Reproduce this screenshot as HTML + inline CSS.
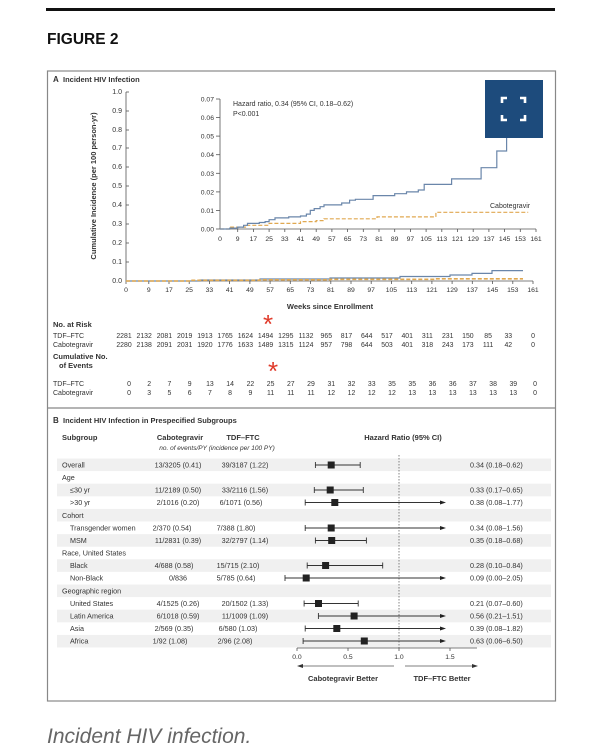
<!DOCTYPE html>
<html><head><meta charset="utf-8"><style>
html,body{margin:0;padding:0;background:#fff;}
svg{display:block;}
text{font-family:"Liberation Sans",sans-serif;fill:#333;}
</style></head><body>
<svg width="601" height="750" viewBox="0 0 601 750" xmlns="http://www.w3.org/2000/svg">
<rect x="46" y="8" width="509" height="3" fill="#111"/>
<text x="47" y="44" font-size="15.5" font-weight="bold" fill="#111" style="fill:#111">FIGURE 2</text>
<rect x="47.5" y="71" width="508" height="630" fill="none" stroke="#888" stroke-width="1.2"/>
<line x1="47.5" y1="408" x2="555.5" y2="408" stroke="#888" stroke-width="1.2"/>

<!-- Panel A -->
<text x="53" y="82" font-size="8" font-weight="bold">A</text>
<text x="63" y="82" font-size="7.5" font-weight="bold">Incident HIV Infection</text>
<g font-size="7" text-anchor="end">
<text x="122" y="94">1.0</text><text x="122" y="113">0.9</text><text x="122" y="132">0.8</text><text x="122" y="150">0.7</text><text x="122" y="169">0.6</text><text x="122" y="188">0.5</text><text x="122" y="207">0.4</text><text x="122" y="226">0.3</text><text x="122" y="245">0.2</text><text x="122" y="264">0.1</text><text x="122" y="283">0.0</text>
</g>
<g stroke="#555" stroke-width="0.8">
<line x1="126" y1="92" x2="126" y2="281"/>
<line x1="126" y1="92" x2="129" y2="92"/><line x1="126" y1="111" x2="129" y2="111"/><line x1="126" y1="130" x2="129" y2="130"/><line x1="126" y1="148" x2="129" y2="148"/><line x1="126" y1="167" x2="129" y2="167"/><line x1="126" y1="186" x2="129" y2="186"/><line x1="126" y1="205" x2="129" y2="205"/><line x1="126" y1="224" x2="129" y2="224"/><line x1="126" y1="243" x2="129" y2="243"/><line x1="126" y1="262" x2="129" y2="262"/>
<line x1="126" y1="281" x2="533" y2="281"/>
</g>
<text transform="translate(96,186) rotate(-90)" font-size="7.5" font-weight="bold" text-anchor="middle">Cumulative Incidence (per 100 person-yr)</text>
<g id="mt" font-size="6.8" text-anchor="middle">
<text x="126" y="292">0</text><text x="148.8" y="292">9</text><text x="169" y="292">17</text><text x="189.2" y="292">25</text><text x="209.4" y="292">33</text><text x="229.6" y="292">41</text><text x="249.9" y="292">49</text><text x="270.1" y="292">57</text><text x="290.3" y="292">65</text><text x="310.5" y="292">73</text><text x="330.8" y="292">81</text><text x="351" y="292">89</text><text x="371.2" y="292">97</text><text x="391.4" y="292">105</text><text x="411.7" y="292">113</text><text x="431.9" y="292">121</text><text x="452.1" y="292">129</text><text x="472.3" y="292">137</text><text x="492.6" y="292">145</text><text x="512.8" y="292">153</text><text x="533" y="292">161</text>
</g>
<g stroke="#555" stroke-width="0.8">
<line x1="126" y1="281" x2="126" y2="284"/><line x1="148.8" y1="281" x2="148.8" y2="284"/><line x1="169" y1="281" x2="169" y2="284"/><line x1="189.2" y1="281" x2="189.2" y2="284"/><line x1="209.4" y1="281" x2="209.4" y2="284"/><line x1="229.6" y1="281" x2="229.6" y2="284"/><line x1="249.9" y1="281" x2="249.9" y2="284"/><line x1="270.1" y1="281" x2="270.1" y2="284"/><line x1="290.3" y1="281" x2="290.3" y2="284"/><line x1="310.5" y1="281" x2="310.5" y2="284"/><line x1="330.8" y1="281" x2="330.8" y2="284"/><line x1="351" y1="281" x2="351" y2="284"/><line x1="371.2" y1="281" x2="371.2" y2="284"/><line x1="391.4" y1="281" x2="391.4" y2="284"/><line x1="411.7" y1="281" x2="411.7" y2="284"/><line x1="431.9" y1="281" x2="431.9" y2="284"/><line x1="452.1" y1="281" x2="452.1" y2="284"/><line x1="472.3" y1="281" x2="472.3" y2="284"/><line x1="492.6" y1="281" x2="492.6" y2="284"/><line x1="512.8" y1="281" x2="512.8" y2="284"/><line x1="533" y1="281" x2="533" y2="284"/>
</g>
<path d="M126,281 H200 V280 H260 V279 H330 V278 H400 V276.5 H450 V275 H472 V273.4 H492 V270.6 H523" fill="none" stroke="#6a86aa" stroke-width="1.2"/>
<path d="M126,281 H190 V280.3 H260 V279.8 H330 V279.3 H435 V278.8 H523" fill="none" stroke="#e0a850" stroke-width="1.6" stroke-dasharray="4,2"/>
<text x="330" y="309" font-size="7.5" font-weight="bold" text-anchor="middle">Weeks since Enrollment</text>

<!-- Inset -->
<g stroke="#555" stroke-width="0.8">
<line x1="220" y1="99" x2="220" y2="229"/>
<line x1="220" y1="229" x2="536" y2="229"/>
<line x1="216" y1="99" x2="220" y2="99"/><line x1="216" y1="117.6" x2="220" y2="117.6"/><line x1="216" y1="136.1" x2="220" y2="136.1"/><line x1="216" y1="154.7" x2="220" y2="154.7"/><line x1="216" y1="173.3" x2="220" y2="173.3"/><line x1="216" y1="191.9" x2="220" y2="191.9"/><line x1="216" y1="210.4" x2="220" y2="210.4"/><line x1="216" y1="229" x2="220" y2="229"/>
</g>
<g font-size="6.8" text-anchor="end">
<text x="214" y="101.5">0.07</text><text x="214" y="120">0.06</text><text x="214" y="138.6">0.05</text><text x="214" y="157.2">0.04</text><text x="214" y="175.8">0.03</text><text x="214" y="194.4">0.02</text><text x="214" y="212.9">0.01</text><text x="214" y="231.5">0.00</text>
</g>
<g font-size="6.8" text-anchor="middle">
<text x="220" y="241">0</text><text x="237.7" y="241">9</text><text x="253.4" y="241">17</text><text x="269.1" y="241">25</text><text x="284.8" y="241">33</text><text x="300.5" y="241">41</text><text x="316.2" y="241">49</text><text x="331.9" y="241">57</text><text x="347.6" y="241">65</text><text x="363.3" y="241">73</text><text x="379" y="241">81</text><text x="394.7" y="241">89</text><text x="410.4" y="241">97</text><text x="426.1" y="241">105</text><text x="441.8" y="241">113</text><text x="457.5" y="241">121</text><text x="473.2" y="241">129</text><text x="488.9" y="241">137</text><text x="504.6" y="241">145</text><text x="520.3" y="241">153</text><text x="536" y="241">161</text>
</g>
<g stroke="#555" stroke-width="0.8">
<line x1="237.7" y1="229" x2="237.7" y2="232"/><line x1="253.4" y1="229" x2="253.4" y2="232"/><line x1="269.1" y1="229" x2="269.1" y2="232"/><line x1="284.8" y1="229" x2="284.8" y2="232"/><line x1="300.5" y1="229" x2="300.5" y2="232"/><line x1="316.2" y1="229" x2="316.2" y2="232"/><line x1="331.9" y1="229" x2="331.9" y2="232"/><line x1="347.6" y1="229" x2="347.6" y2="232"/><line x1="363.3" y1="229" x2="363.3" y2="232"/><line x1="379" y1="229" x2="379" y2="232"/><line x1="394.7" y1="229" x2="394.7" y2="232"/><line x1="410.4" y1="229" x2="410.4" y2="232"/><line x1="426.1" y1="229" x2="426.1" y2="232"/><line x1="441.8" y1="229" x2="441.8" y2="232"/><line x1="457.5" y1="229" x2="457.5" y2="232"/><line x1="473.2" y1="229" x2="473.2" y2="232"/><line x1="488.9" y1="229" x2="488.9" y2="232"/><line x1="504.6" y1="229" x2="504.6" y2="232"/><line x1="520.3" y1="229" x2="520.3" y2="232"/><line x1="536" y1="229" x2="536" y2="232"/>
</g>
<path d="M220,229 H229.8 V227.1 H245.5 V225.3 H269.1 V223.4 H300.5 V221.6 H316.2 V220.6 H324 V218.8 H377 V216.9 H435.9 V212.3 H528.2" fill="none" stroke="#e0a850" stroke-width="1.2" stroke-dasharray="4,2"/>
<path d="M220,229 H229.8 V228.1 H237.7 V227.1 H243.6 V225.3 H247.5 V223.4 H259.3 V222.5 H265.1 V221.6 H269.1 V219.7 H275 V217.9 H288.7 V216.9 H300.5 V216 H306.4 V214.1 H310.3 V210.4 H314.2 V208.6 H320.1 V206.7 H324 V204.9 H341.7 V203 H349.6 V200.2 H355.4 V199.3 H373.1 V195.6 H394.7 V193.7 H406.5 V191.9 H418.3 V190 H424.2 V184.4 H451.6 V178.9 H481.1 V167.7 H496.8 V151 H506.6 V110" fill="none" stroke="#6a86aa" stroke-width="1.2"/>
<text x="233" y="106" font-size="7">Hazard ratio, 0.34 (95% CI, 0.18–0.62)</text>
<text x="233" y="116" font-size="7">P&lt;0.001</text>
<text x="490" y="208" font-size="7">Cabotegravir</text>
<rect x="485" y="80" width="58" height="58" fill="#1d4b7c"/>
<g fill="none" stroke="#fff" stroke-width="2.6">
<path d="M502,103 V98 H507"/><path d="M520,98 H525 V103"/><path d="M502,115 V120 H507"/><path d="M520,120 H525 V115"/>
</g>

<!-- Risk table -->
<text x="53" y="327" font-size="7.5" font-weight="bold">No. at Risk</text>
<text x="53" y="338" font-size="7">TDF–FTC</text>
<text x="53" y="347" font-size="7">Cabotegravir</text>
<g font-size="6.9" text-anchor="middle">
<g transform="translate(0,338)">
<text x="124" y="0">2281</text><text x="144.2" y="0">2132</text><text x="164.4" y="0">2081</text><text x="184.7" y="0">2019</text><text x="204.9" y="0">1913</text><text x="225.1" y="0">1765</text><text x="245.4" y="0">1624</text><text x="265.6" y="0">1494</text><text x="285.8" y="0">1295</text><text x="306" y="0">1132</text><text x="326.3" y="0">965</text><text x="346.5" y="0">817</text><text x="366.7" y="0">644</text><text x="387" y="0">517</text><text x="407.2" y="0">401</text><text x="427.4" y="0">311</text><text x="447.7" y="0">231</text><text x="467.9" y="0">150</text><text x="488.1" y="0">85</text><text x="508.3" y="0">33</text><text x="533" y="0">0</text>
</g>
<g transform="translate(0,347)">
<text x="124" y="0">2280</text><text x="144.2" y="0">2138</text><text x="164.4" y="0">2091</text><text x="184.7" y="0">2031</text><text x="204.9" y="0">1920</text><text x="225.1" y="0">1776</text><text x="245.4" y="0">1633</text><text x="265.6" y="0">1489</text><text x="285.8" y="0">1315</text><text x="306" y="0">1124</text><text x="326.3" y="0">957</text><text x="346.5" y="0">798</text><text x="366.7" y="0">644</text><text x="387" y="0">503</text><text x="407.2" y="0">401</text><text x="427.4" y="0">318</text><text x="447.7" y="0">243</text><text x="467.9" y="0">173</text><text x="488.1" y="0">111</text><text x="508.3" y="0">42</text><text x="533" y="0">0</text>
</g>
<g transform="translate(0,386)">
<text x="129" y="0">0</text><text x="149.2" y="0">2</text><text x="169.4" y="0">7</text><text x="189.7" y="0">9</text><text x="209.9" y="0">13</text><text x="230.1" y="0">14</text><text x="250.4" y="0">22</text><text x="270.6" y="0">25</text><text x="290.8" y="0">27</text><text x="311" y="0">29</text><text x="331.3" y="0">31</text><text x="351.5" y="0">32</text><text x="371.7" y="0">33</text><text x="392" y="0">35</text><text x="412.2" y="0">35</text><text x="432.4" y="0">36</text><text x="452.7" y="0">36</text><text x="472.9" y="0">37</text><text x="493.1" y="0">38</text><text x="513.3" y="0">39</text><text x="535" y="0">0</text>
</g>
<g transform="translate(0,395)">
<text x="129" y="0">0</text><text x="149.2" y="0">3</text><text x="169.4" y="0">5</text><text x="189.7" y="0">6</text><text x="209.9" y="0">7</text><text x="230.1" y="0">8</text><text x="250.4" y="0">9</text><text x="270.6" y="0">11</text><text x="290.8" y="0">11</text><text x="311" y="0">11</text><text x="331.3" y="0">12</text><text x="351.5" y="0">12</text><text x="371.7" y="0">12</text><text x="392" y="0">12</text><text x="412.2" y="0">13</text><text x="432.4" y="0">13</text><text x="452.7" y="0">13</text><text x="472.9" y="0">13</text><text x="493.1" y="0">13</text><text x="513.3" y="0">13</text><text x="535" y="0">0</text>
</g>
</g>
<text x="53" y="359" font-size="7.5" font-weight="bold">Cumulative No.</text>
<text x="59" y="368" font-size="7.5" font-weight="bold">of Events</text>
<text x="53" y="386" font-size="7">TDF–FTC</text>
<text x="53" y="395" font-size="7">Cabotegravir</text>
<text x="268" y="333" font-size="26" text-anchor="middle" style="fill:#e03a2a">*</text>
<text x="273" y="380" font-size="26" text-anchor="middle" style="fill:#e03a2a">*</text>

<!-- Panel B -->
<text x="53" y="423" font-size="8" font-weight="bold">B</text>
<text x="63" y="423" font-size="7.5" font-weight="bold">Incident HIV Infection in Prespecified Subgroups</text>
<g font-size="7.5" font-weight="bold">
<text x="62" y="440">Subgroup</text>
<text x="180" y="440" text-anchor="middle">Cabotegravir</text>
<text x="243" y="440" text-anchor="middle">TDF–FTC</text>
<text x="403" y="440" text-anchor="middle">Hazard Ratio (95% CI)</text>
</g>
<text x="217" y="450" font-size="6.5" font-style="italic" text-anchor="middle">no. of events/PY (incidence per 100 PY)</text>

<g fill="#f0f0f0">
<rect x="57" y="458.5" width="494" height="12.6"/>
<rect x="57" y="483.7" width="494" height="12.6"/>
<rect x="57" y="508.9" width="494" height="12.6"/>
<rect x="57" y="534.1" width="494" height="12.6"/>
<rect x="57" y="559.3" width="494" height="12.6"/>
<rect x="57" y="584.5" width="494" height="12.6"/>
<rect x="57" y="609.7" width="494" height="12.6"/>
<rect x="57" y="634.9" width="494" height="12.6"/>
</g>
<line x1="399" y1="455" x2="399" y2="648" stroke="#666" stroke-width="0.8" stroke-dasharray="1.5,1.5"/>

<g font-size="7.2">
<text x="62" y="467.5">Overall</text>
<text x="62" y="480">Age</text>
<text x="70" y="492.5">≤30 yr</text>
<text x="70" y="505">&gt;30 yr</text>
<text x="62" y="518">Cohort</text>
<text x="70" y="530.5">Transgender women</text>
<text x="70" y="543">MSM</text>
<text x="62" y="555.5">Race, United States</text>
<text x="70" y="568">Black</text>
<text x="70" y="580.5">Non-Black</text>
<text x="62" y="593.5">Geographic region</text>
<text x="70" y="606">United States</text>
<text x="70" y="618.5">Latin America</text>
<text x="70" y="631">Asia</text>
<text x="70" y="643.5">Africa</text>
</g>
<g font-size="7.2" text-anchor="middle">
<text x="178" y="467.5">13/3205 (0.41)</text><text x="245" y="467.5">39/3187 (1.22)</text>
<text x="178" y="492.5">11/2189 (0.50)</text><text x="245" y="492.5">33/2116 (1.56)</text>
<text x="178" y="505">2/1016 (0.20)</text><text x="241" y="505">6/1071 (0.56)</text>
<text x="172" y="530.5">2/370 (0.54)</text><text x="236" y="530.5">7/388 (1.80)</text>
<text x="178" y="543">11/2831 (0.39)</text><text x="245" y="543">32/2797 (1.14)</text>
<text x="174" y="568">4/688 (0.58)</text><text x="238" y="568">15/715 (2.10)</text>
<text x="178" y="580.5">0/836</text><text x="236" y="580.5">5/785 (0.64)</text>
<text x="178" y="606">4/1525 (0.26)</text><text x="245" y="606">20/1502 (1.33)</text>
<text x="178" y="618.5">6/1018 (0.59)</text><text x="245" y="618.5">11/1009 (1.09)</text>
<text x="174" y="631">2/569 (0.35)</text><text x="238" y="631">6/580 (1.03)</text>
<text x="170" y="643.5">1/92 (1.08)</text><text x="235" y="643.5">2/96 (2.08)</text>
</g>
<g font-size="7.2">
<text x="470" y="467.5">0.34 (0.18–0.62)</text>
<text x="470" y="492.5">0.33 (0.17–0.65)</text>
<text x="470" y="505">0.38 (0.08–1.77)</text>
<text x="470" y="530.5">0.34 (0.08–1.56)</text>
<text x="470" y="543">0.35 (0.18–0.68)</text>
<text x="470" y="568">0.28 (0.10–0.84)</text>
<text x="470" y="580.5">0.09 (0.00–2.05)</text>
<text x="470" y="606">0.21 (0.07–0.60)</text>
<text x="470" y="618.5">0.56 (0.21–1.51)</text>
<text x="470" y="631">0.39 (0.08–1.82)</text>
<text x="470" y="643.5">0.63 (0.06–6.50)</text>
</g>
<!-- CIs: x = 297 + 102*v -->
<g stroke="#333" stroke-width="0.9">
<line x1="315.4" y1="465" x2="360.2" y2="465"/><line x1="315.4" y1="462" x2="315.4" y2="468"/><line x1="360.2" y1="462" x2="360.2" y2="468"/>
<line x1="314.3" y1="490" x2="363.3" y2="490"/><line x1="314.3" y1="487" x2="314.3" y2="493"/><line x1="363.3" y1="487" x2="363.3" y2="493"/>
<line x1="305.2" y1="502.5" x2="442" y2="502.5"/><line x1="305.2" y1="499.5" x2="305.2" y2="505.5"/>
<line x1="305.2" y1="528" x2="442" y2="528"/><line x1="305.2" y1="525" x2="305.2" y2="531"/>
<line x1="315.4" y1="540.5" x2="366.4" y2="540.5"/><line x1="315.4" y1="537.5" x2="315.4" y2="543.5"/><line x1="366.4" y1="537.5" x2="366.4" y2="543.5"/>
<line x1="307.2" y1="565.5" x2="382.7" y2="565.5"/><line x1="307.2" y1="562.5" x2="307.2" y2="568.5"/><line x1="382.7" y1="562.5" x2="382.7" y2="568.5"/>
<line x1="285" y1="578" x2="442" y2="578"/><line x1="285" y1="575" x2="285" y2="581"/>
<line x1="304.1" y1="603.5" x2="358.2" y2="603.5"/><line x1="304.1" y1="600.5" x2="304.1" y2="606.5"/><line x1="358.2" y1="600.5" x2="358.2" y2="606.5"/>
<line x1="318.4" y1="616" x2="442" y2="616"/><line x1="318.4" y1="613" x2="318.4" y2="619"/>
<line x1="305.2" y1="628.5" x2="442" y2="628.5"/><line x1="305.2" y1="625.5" x2="305.2" y2="631.5"/>
<line x1="303.1" y1="641" x2="442" y2="641"/><line x1="303.1" y1="638" x2="303.1" y2="644"/>
</g>
<g fill="#222">
<polygon points="440,500.5 446,502.5 440,504.5"/><polygon points="440,526 446,528 440,530"/><polygon points="440,576 446,578 440,580"/><polygon points="440,614 446,616 440,618"/><polygon points="440,626.5 446,628.5 440,630.5"/><polygon points="440,639 446,641 440,643"/>
<rect x="327.7" y="461.5" width="7" height="7"/>
<rect x="326.7" y="486.5" width="7" height="7"/>
<rect x="331.3" y="499" width="7" height="7"/>
<rect x="327.7" y="524.5" width="7" height="7"/>
<rect x="328.2" y="537" width="7" height="7"/>
<rect x="322.1" y="562" width="7" height="7"/>
<rect x="302.7" y="574.5" width="7" height="7"/>
<rect x="315" y="600" width="7" height="7"/>
<rect x="350.6" y="612.5" width="7" height="7"/>
<rect x="333.3" y="625" width="7" height="7"/>
<rect x="360.8" y="637.5" width="7" height="7"/>
</g>
<g stroke="#555" stroke-width="0.8">
<line x1="297" y1="648" x2="477" y2="648"/>
<line x1="297" y1="648" x2="297" y2="651"/><line x1="348" y1="648" x2="348" y2="651"/><line x1="399" y1="648" x2="399" y2="651"/><line x1="450" y1="648" x2="450" y2="651"/>
<line x1="299" y1="666" x2="394" y2="666"/><line x1="405" y1="666" x2="475" y2="666"/>
</g>
<polygon points="297,666 303,664 303,668" fill="#333"/>
<polygon points="478,666 472,664 472,668" fill="#333"/>
<g font-size="6.8" text-anchor="middle">
<text x="297" y="659">0.0</text><text x="348" y="659">0.5</text><text x="399" y="659">1.0</text><text x="450" y="659">1.5</text>
</g>
<text x="343" y="681" font-size="7.5" font-weight="bold" text-anchor="middle">Cabotegravir Better</text>
<text x="442" y="681" font-size="7.5" font-weight="bold" text-anchor="middle">TDF–FTC Better</text>

<text x="47" y="743" font-size="21" font-style="italic" style="fill:#666">Incident HIV infection.</text>
</svg>
</body></html>
